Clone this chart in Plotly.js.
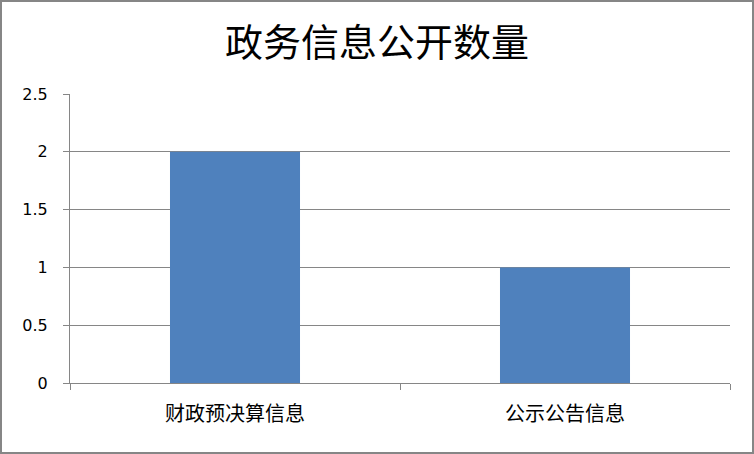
<!DOCTYPE html>
<html>
<head>
<meta charset="utf-8">
<script src="https://cdn.plot.ly/plotly-3.0.1.min.js"></script>
<style>
html,body{margin:0;padding:0;background:#fff;}
#wrap{width:754px;height:454px;box-sizing:border-box;border:2px solid #868686;position:relative;overflow:hidden;}
#chart{position:absolute;left:-2px;top:-2px;width:754px;height:454px;}
</style>
</head>
<body>
<div id="wrap"><div id="chart"></div></div>
<script>
const categories = ["财政预决算信息", "公示公告信息"];
const values = [2, 1];
const yTicks = [0, 0.5, 1, 1.5, 2, 2.5];
const yTickLabels = ["0", "0.5", "1", "1.5", "2", "2.5"];
const titleText = "政务信息公开数量";

const trace = {
  type: "bar",
  x: categories,
  y: values,
  marker: {color: "#4F81BD"},
  hoverinfo: "none"
};

const layout = {
  width: 754,
  height: 454,
  paper_bgcolor: "rgba(0,0,0,0)",
  plot_bgcolor: "#ffffff",
  margin: {l: 70, r: 24, t: 94, b: 71},
  showlegend: false,
  bargap: 0.606,
  title: {
    text: titleText,
    font: {family: "Noto Sans CJK SC", size: 38, color: "#000"},
    x: 0.5, xanchor: "center",
    y: 1 - 43/454, yref: "container", yanchor: "middle"
  },
  xaxis: {
    type: "category",
    showline: true, linecolor: "#868686", linewidth: 1,
    ticks: "outside", ticklen: 6, tickcolor: "#868686",
    tickson: "boundaries",
    showgrid: false,
    ticklabelstandoff: 13,
    tickfont: {family: "Noto Sans CJK SC", size: 20, color: "#000"}
  },
  yaxis: {
    range: [0, 2.5],
    tickvals: yTicks, ticktext: yTickLabels,
    showline: true, linecolor: "#868686", linewidth: 1,
    ticks: "outside", ticklen: 6, tickcolor: "#868686",
    showgrid: true, gridcolor: "#868686", gridwidth: 1,
    zeroline: false,
    ticklabelstandoff: 12,
    tickfont: {family: "DejaVu Sans", size: 16, color: "#000"}
  }
};

Plotly.newPlot("chart", [trace], layout, {staticPlot: true, displayModeBar: false});
</script>
</body>
</html>
